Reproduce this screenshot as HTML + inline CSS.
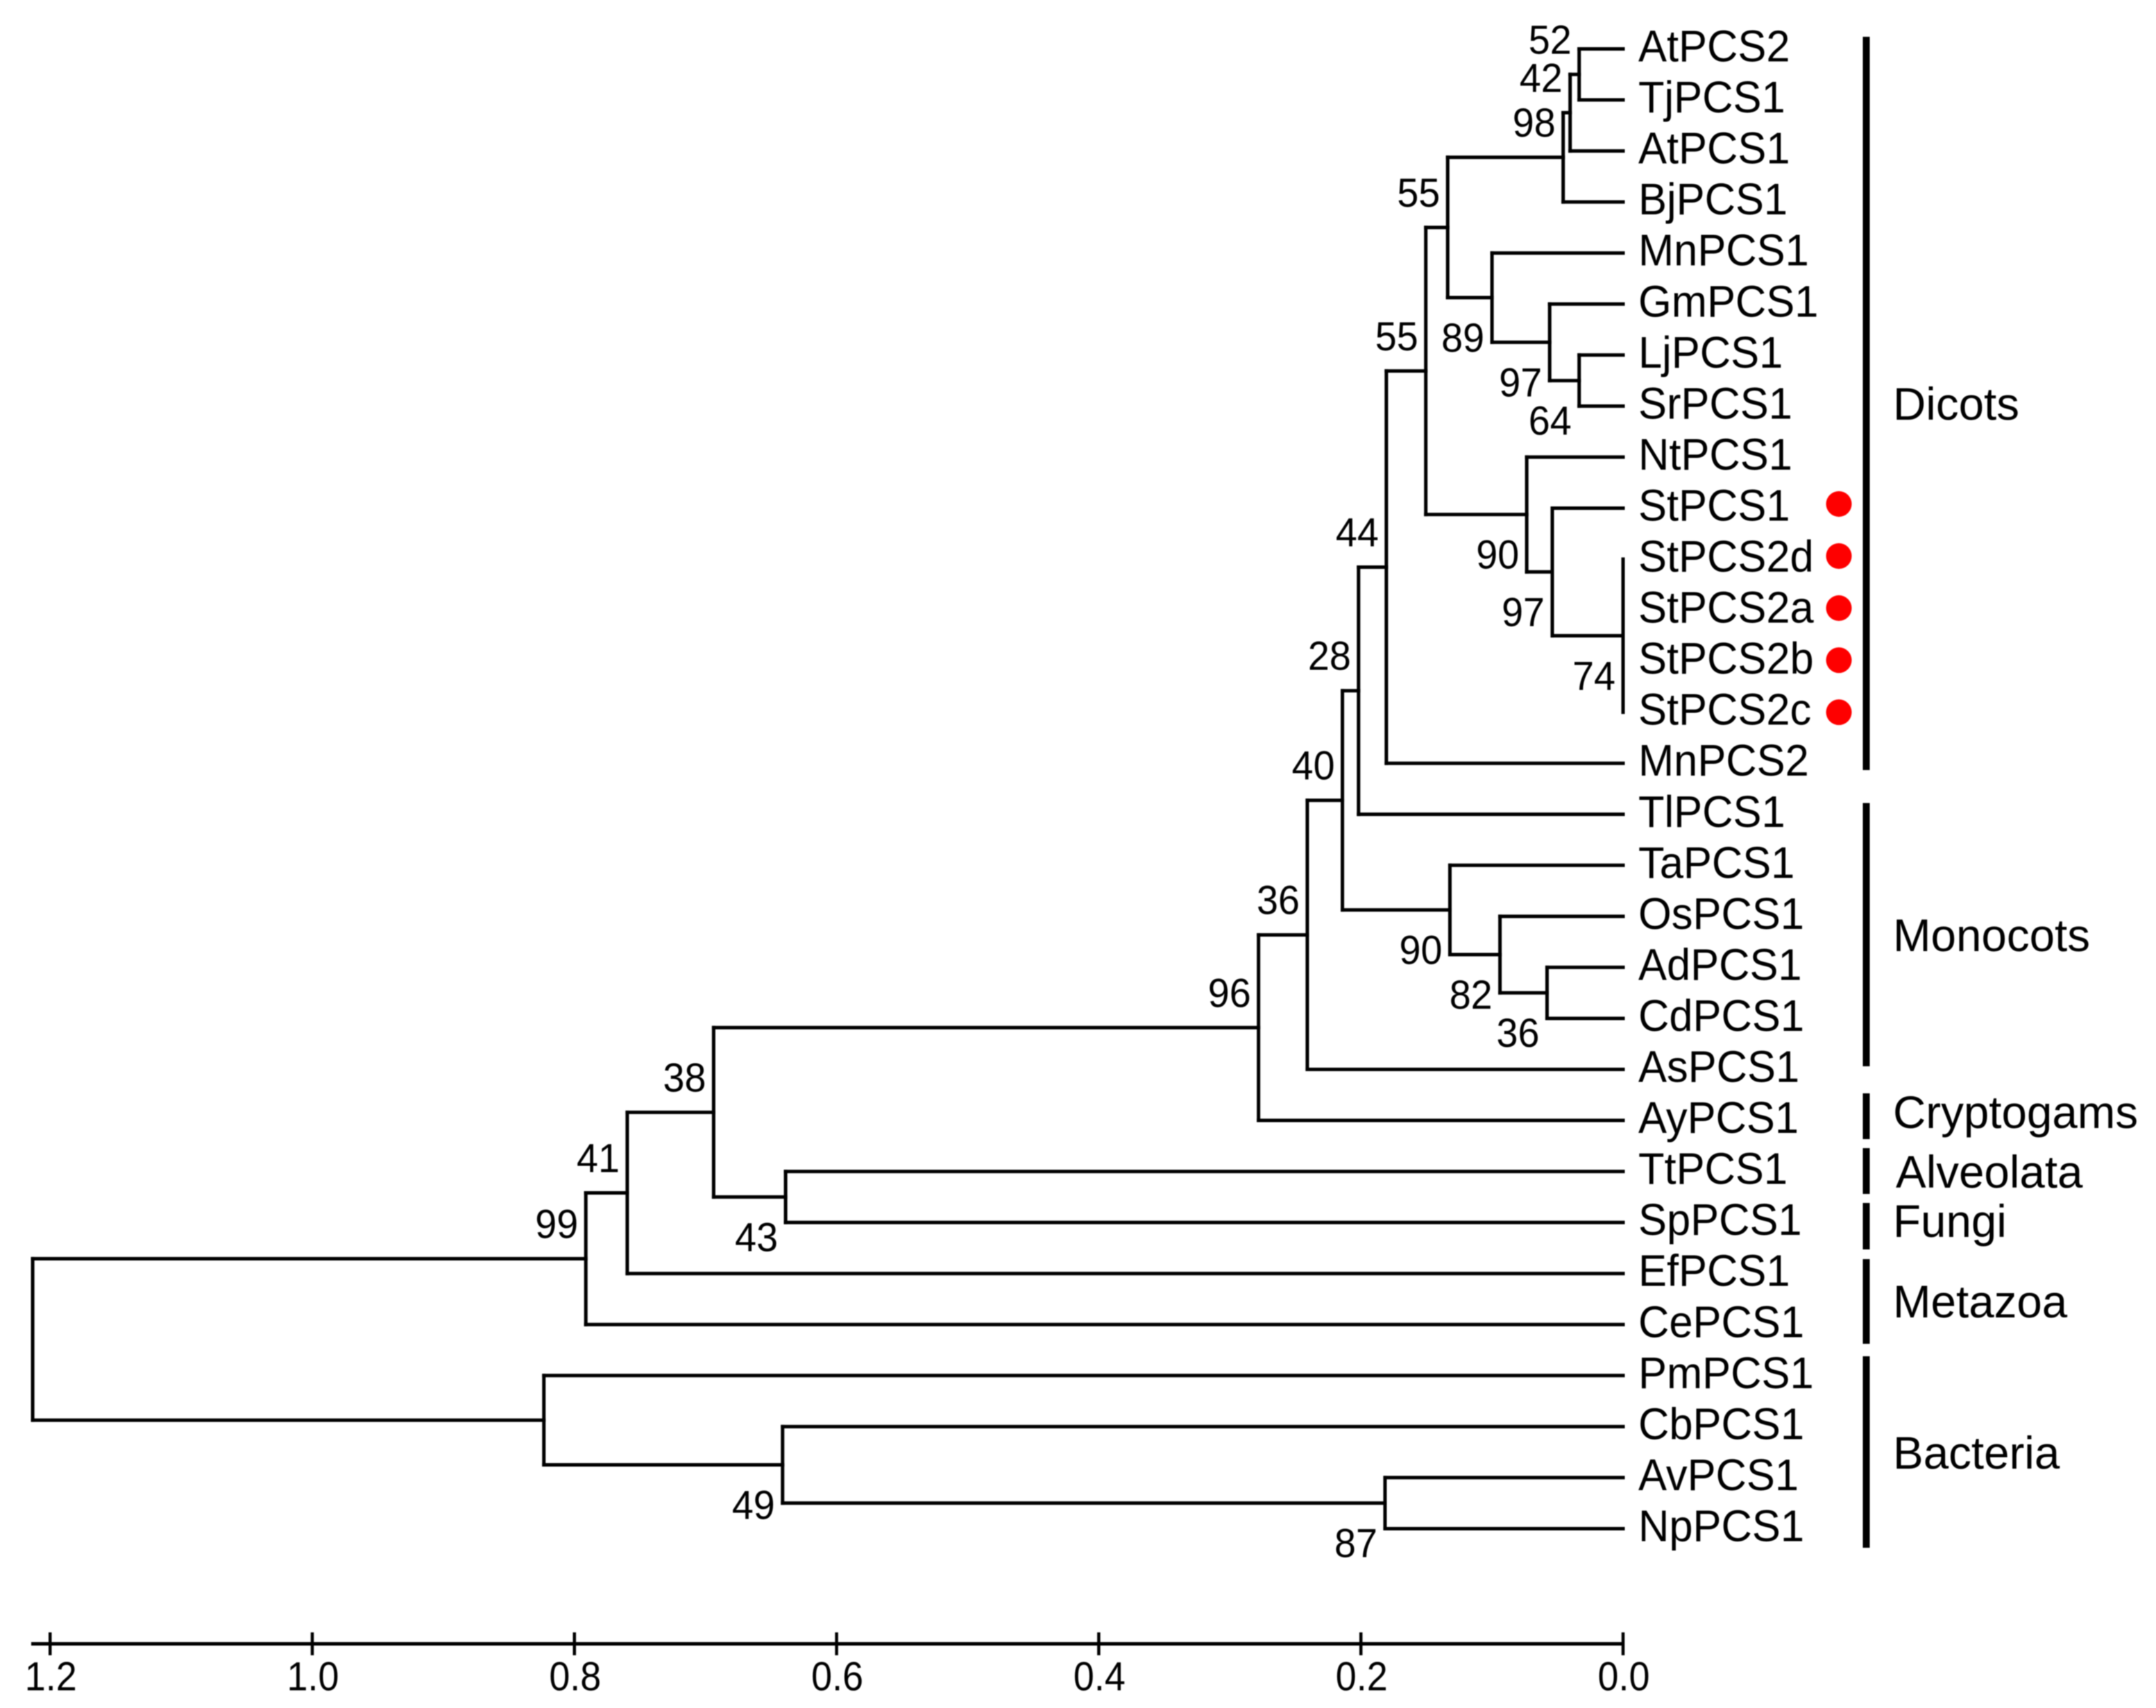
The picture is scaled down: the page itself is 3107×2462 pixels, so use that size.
<!DOCTYPE html>
<html lang="en">
<head>
<meta charset="utf-8">
<title>PCS phylogenetic tree</title>
<style>
html,body{margin:0;padding:0;background:#fff;width:3107px;height:2462px;overflow:hidden}
svg{display:block;filter:blur(0.7px)}
text{font-family:"Liberation Sans",Arial,sans-serif;fill:#000}
.group-label{font-size:65.5px}
</style>
</head>
<body>
<svg id="chart" xmlns="http://www.w3.org/2000/svg" width="3107" height="2462" viewBox="0 0 3107 2462">
<rect x="0" y="0" width="3107" height="2462" fill="#fff"/>
<g id="tree" stroke="#000" stroke-width="5" stroke-linecap="square" fill="none"></g>
<g id="leaf-labels"></g>
<g id="support-labels"></g>
<g id="markers"></g>
<g id="axis"></g>
<g>
<rect x="2684.5" y="53" width="10" height="1057" fill="#000"/>
<rect x="2684.5" y="1157.5" width="10" height="379.5" fill="#000"/>
<rect x="2684.5" y="1576" width="10" height="66" fill="#000"/>
<rect x="2684.5" y="1655" width="10" height="66" fill="#000"/>
<rect x="2684.5" y="1734" width="10" height="67" fill="#000"/>
<rect x="2684.5" y="1815" width="10" height="122" fill="#000"/>
<rect x="2684.5" y="1955" width="10" height="276" fill="#000"/>
<text class="group-label" x="2728" y="605">Dicots</text>
<text class="group-label" x="2728" y="1371">Monocots</text>
<text class="group-label" x="2728" y="1626">Cryptogams</text>
<text class="group-label" x="2732" y="1712">Alveolata</text>
<text class="group-label" x="2728" y="1783">Fungi</text>
<text class="group-label" x="2728" y="1899">Metazoa</text>
<text class="group-label" x="2728" y="2117">Bacteria</text>
</g>
</svg>
<script>
const leafNames = ["AtPCS2","TjPCS1","AtPCS1","BjPCS1","MnPCS1","GmPCS1","LjPCS1","SrPCS1","NtPCS1","StPCS1","StPCS2d","StPCS2a","StPCS2b","StPCS2c","MnPCS2","TlPCS1","TaPCS1","OsPCS1","AdPCS1","CdPCS1","AsPCS1","AyPCS1","TtPCS1","SpPCS1","EfPCS1","CePCS1","PmPCS1","CbPCS1","AvPCS1","NpPCS1"];
const markedLeaves = ["StPCS1","StPCS2d","StPCS2a","StPCS2b","StPCS2c"];
const nodeIds = ["a","b","c","d","e","f","g","h","i","j","k","l","m","n","o","p","q","r","s","t","u","v","w","x","y","z","root"];
const nodeChildren = [
  ["AtPCS2","TjPCS1"],["a","AtPCS1"],["b","BjPCS1"],
  ["LjPCS1","SrPCS1"],["GmPCS1","d"],["MnPCS1","e"],["c","f"],
  ["StPCS2d","StPCS2a","StPCS2b","StPCS2c"],["StPCS1","h"],["NtPCS1","i"],["g","j"],
  ["k","MnPCS2"],["l","TlPCS1"],
  ["AdPCS1","CdPCS1"],["OsPCS1","n"],["TaPCS1","o"],["m","p"],
  ["q","AsPCS1"],["r","AyPCS1"],
  ["TtPCS1","SpPCS1"],["s","t"],["u","EfPCS1"],["v","CePCS1"],
  ["AvPCS1","NpPCS1"],["CbPCS1","x"],["PmPCS1","y"],["w","z"]
];
const nodeHeights = [0.0335,0.0404,0.0457,0.0335,0.056,0.1,0.1338,0,0.054,0.0735,0.1505,0.1806,0.2018,0.058,0.0939,0.1321,0.2141,0.2409,0.2781,0.6389,0.6938,0.7597,0.7913,0.1816,0.6412,0.8233,1.2133];
const nodeSupport = [52,42,98,64,97,89,55,74,97,90,55,44,28,36,82,90,40,36,96,43,38,41,99,87,49,null,null];
const tickValues = [1.2,1.0,0.8,0.6,0.4,0.2,0.0];
const tickLabels = ["1.2","1.0","0.8","0.6","0.4","0.2","0.0"];

const NS = "http://www.w3.org/2000/svg";
const xOf = v => 2339 - 1889 * v;
const leafY = i => 70.5 + 73.55 * i;
const yCache = {};
function yOf(id){
  if (id in yCache) return yCache[id];
  const li = leafNames.indexOf(id);
  let y;
  if (li >= 0) { y = leafY(li); }
  else {
    const ch = nodeChildren[nodeIds.indexOf(id)];
    y = (yOf(ch[0]) + yOf(ch[ch.length - 1])) / 2;
  }
  yCache[id] = y;
  return y;
}
const heightOf = id => { const k = nodeIds.indexOf(id); return k >= 0 ? nodeHeights[k] : 0; };
const lowerChild = {};
nodeChildren.forEach(ch => { ch.forEach((c, i) => { lowerChild[c] = i > 0; }); });

const tree = document.getElementById("tree");
nodeIds.forEach((id, k) => {
  const x = xOf(nodeHeights[k]);
  const ch = nodeChildren[k];
  const v = document.createElementNS(NS, "line");
  v.setAttribute("x1", x);
  v.setAttribute("x2", x);
  v.setAttribute("y1", yOf(ch[0]));
  v.setAttribute("y2", yOf(ch[ch.length - 1]));
  
  
  tree.appendChild(v);
  ch.forEach(c => {
    const cx = xOf(heightOf(c));
    if (Math.abs(cx - x) < 0.01) return;
    const h = document.createElementNS(NS, "line");
    h.setAttribute("x1", x);
    h.setAttribute("x2", cx);
    h.setAttribute("y1", yOf(c));
    h.setAttribute("y2", yOf(c));
    
    
    tree.appendChild(h);
  });
});

const leafGroup = document.getElementById("leaf-labels");
leafNames.forEach((name, i) => {
  const t = document.createElementNS(NS, "text");
  t.textContent = name;
  t.setAttribute("font-size", "64");
  t.setAttribute("transform", "translate(2361," + (leafY(i) + 18) + ") scale(0.96,1)");
  
  
  leafGroup.appendChild(t);
});

const supportGroup = document.getElementById("support-labels");
nodeIds.forEach((id, k) => {
  if (nodeSupport[k] === null) return;
  const t = document.createElementNS(NS, "text");
  t.textContent = String(nodeSupport[k]);
  t.setAttribute("font-size", "58");
  t.setAttribute("text-anchor", "end");
  const by = yOf(id) + (lowerChild[id] ? 78 : -30);
  t.setAttribute("transform", "translate(" + (xOf(nodeHeights[k]) - 11) + "," + by + ") scale(0.96,1)");
  
  
  supportGroup.appendChild(t);
});

const markerGroup = document.getElementById("markers");
markedLeaves.forEach(name => {
  const i = leafNames.indexOf(name);
  const c = document.createElementNS(NS, "circle");
  c.setAttribute("cx", 2650);
  c.setAttribute("cy", leafY(i) - 6 + 1.5 * (i - 9));
  c.setAttribute("r", 18.5);
  c.setAttribute("fill", "#fe0000");
  
  
  markerGroup.appendChild(c);
});

const axis = document.getElementById("axis");
const axisLine = document.createElementNS(NS, "line");
axisLine.setAttribute("x1", 45);
axisLine.setAttribute("x2", xOf(0));
axisLine.setAttribute("y1", 2369.5);
axisLine.setAttribute("y2", 2369.5);
axisLine.setAttribute("stroke", "#000");
axisLine.setAttribute("stroke-width", "5");


axis.appendChild(axisLine);
tickValues.forEach((v, i) => {
  const l = document.createElementNS(NS, "line");
  l.setAttribute("x1", xOf(v));
  l.setAttribute("x2", xOf(v));
  l.setAttribute("y1", 2353);
  l.setAttribute("y2", 2386);
  l.setAttribute("stroke", "#000");
  l.setAttribute("stroke-width", "4.5");
  
  
  axis.appendChild(l);
  const t = document.createElementNS(NS, "text");
  t.textContent = tickLabels[i];
  t.setAttribute("font-size", "58");
  t.setAttribute("text-anchor", "middle");
  t.setAttribute("transform", "translate(" + (xOf(v) + 1) + ",2436.5) scale(0.93,1)");
  
  
  axis.appendChild(t);
});
</script>
</body>
</html>
